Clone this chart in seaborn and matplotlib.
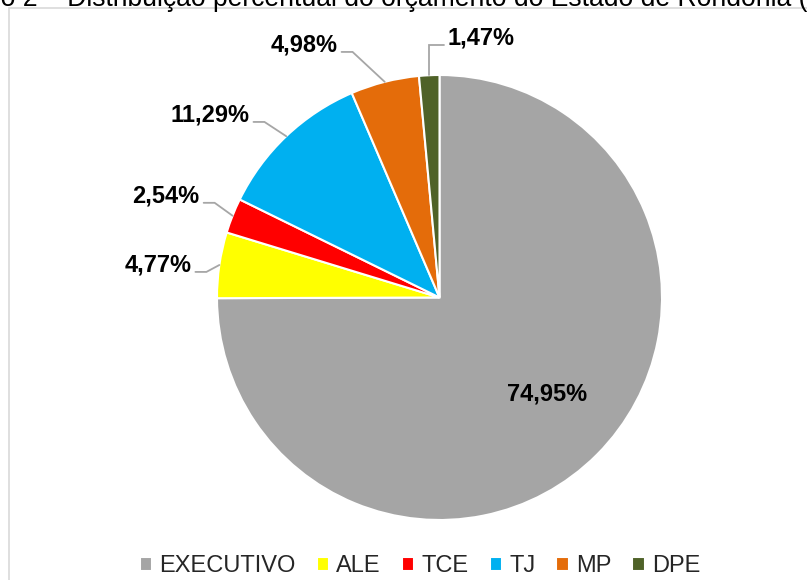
import numpy as np
import matplotlib
matplotlib.use("Agg")
import matplotlib.pyplot as plt
import seaborn as sns
from matplotlib.patches import Rectangle

categories = ["EXECUTIVO", "ALE", "TCE", "TJ", "MP", "DPE"]
shares = [74.95, 4.77, 2.54, 11.29, 4.98, 1.47]
labels = ["74,95%", "4,77%", "2,54%", "11,29%", "4,98%", "1,47%"]
colors = ["#A5A5A5", "#FFFF00", "#FF0000", "#00B0F0", "#E46C0A", "#4F6228"]
title = "Gráfico 2 – Distribuição percentual do orçamento do Estado de Rondônia (2019)"

# where each label sits: (angle in degrees, distance as fraction of radius)
label_pos = [(-41.9, 0.649), (173.4, 1.274), (159.6, 1.311),
             (141.5, 1.318), (118.2, 1.288), (80.9, 1.181)]

sns.set_theme(style="white")
plt.rcParams["font.family"] = ["Liberation Sans", "DejaVu Sans"]

W, H = 807, 580
fig = plt.figure(figsize=(W / 100, H / 100), dpi=100)
ax = fig.add_axes([0, 0, 1, 1])

cx, cy, R = 439.5, H - 297.5, 222.5
wedges, _ = ax.pie(shares, colors=colors, startangle=90, counterclock=False,
                   center=(cx, cy), radius=R,
                   wedgeprops=dict(edgecolor="white", linewidth=1.5))
ax.set_xlim(0, W)
ax.set_ylim(0, H)
ax.set_aspect("equal")
ax.axis("off")

# chart frame
ax.add_patch(Rectangle((9, -20), 900, H - 8 + 20, fill=False,
                       edgecolor="#D9D9D9", linewidth=1.2, zorder=0))

renderer = fig.canvas.get_renderer()
inv = ax.transData.inverted()

for i, (w, lab) in enumerate(zip(wedges, labels)):
    ang, rf = label_pos[i]
    tx = cx + R * rf * np.cos(np.radians(ang))
    ty = cy + R * rf * np.sin(np.radians(ang))
    t = ax.text(tx, ty, lab, ha="center", va="center", fontsize=17,
                fontweight="bold", color="black")
    if i == 0:
        continue
    mid = np.radians((w.theta1 + w.theta2) / 2)
    ex, ey = cx + R * np.cos(mid), cy + R * np.sin(mid)
    bb = t.get_window_extent(renderer).transformed(inv)
    ly = ty - 7
    if tx < ex:
        sx = bb.x1 + 4
        kx = sx + 11
    else:
        sx = bb.x0 - 4
        kx = ex
    ax.plot([sx, kx, ex], [ly, ly, ey], color="#A6A6A6", linewidth=1.3,
            solid_joinstyle="miter")

# title, only its lower part shows at the top edge
fs = 16
probe = ax.text(0, 0, "Distribuição percentual do orçamento do Estado de Rondônia",
                fontsize=fs)
pw = probe.get_window_extent(renderer).width
probe.remove()
fs = fs * 726 / pw
pre = ax.text(0, 0, "Gráfico 2 – ", fontsize=fs)
prew = pre.get_window_extent(renderer).width
pre.remove()
ax.text(67 - prew, H - 6, title, fontsize=fs, ha="left", va="baseline",
        color="black")

ax.legend(wedges, categories, loc="center", bbox_to_anchor=(420, 13.5),
          bbox_transform=ax.transData, ncol=6, frameon=False, fontsize=17,
          handlelength=0.52, handleheight=0.52, handletextpad=0.3,
          columnspacing=0.9)

fig.savefig("out.png", dpi=100)
